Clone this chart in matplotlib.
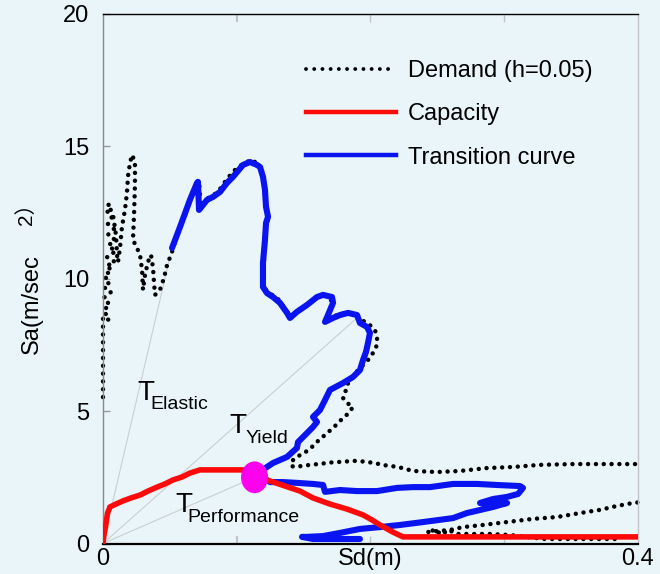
import numpy as np
import matplotlib
matplotlib.use("Agg")
import matplotlib.pyplot as plt
from matplotlib.patches import Ellipse
from matplotlib.lines import Line2D

plt.rcParams['font.family'] = ['Liberation Sans', 'Noto Sans CJK JP', 'DejaVu Sans']

BG = '#e9f5f8'

# Capacity spectrum (Sd [m], Sa [m/s^2])
cap_sd = [0.0, 0.0007, 0.0019, 0.0026, 0.0034, 0.0052, 0.0097, 0.0150, 0.0209, 0.0277,
          0.0336, 0.0404, 0.0463, 0.0523, 0.0590, 0.0650, 0.0725, 0.1047, 0.1136, 0.1249,
          0.1361, 0.1473, 0.1570, 0.1697, 0.1824, 0.1944, 0.2011, 0.2071, 0.2168, 0.2243, 0.4]
cap_sa = [0.0, 0.32, 0.62, 0.89, 1.15, 1.38, 1.49, 1.61, 1.72, 1.83,
          1.98, 2.13, 2.25, 2.40, 2.51, 2.66, 2.78, 2.78, 2.59, 2.36,
          2.17, 1.98, 1.72, 1.49, 1.30, 1.08, 0.89, 0.70, 0.43, 0.25, 0.25]

# Demand spectrum, h = 0.05 (NaN separates the part leaving the plotted range)
dem_sd = [0.0, 0.0, 0.0045, 0.0004, 0.0052, 0.0004, 0.0060, 0.0004, 0.0052, 0.0007,
          0.0067, 0.0022, 0.0090, 0.0030, 0.0097, 0.0037, 0.0090, 0.0037, 0.0082, 0.0037,
          0.0067, 0.0030, 0.0052, 0.0037, 0.0075, 0.0097, 0.0105, 0.0112,
          0.0127, 0.0142, 0.0164, 0.0179, 0.0187, 0.0202, 0.0217,
          0.0239, 0.0239, 0.0232, 0.0224, 0.0254, 0.0277, 0.0292, 0.0299, 0.0314, 0.0336,
          0.0359, 0.0374, 0.0381, 0.0389, 0.0426, 0.0456, 0.0479, 0.0516,
          0.0553, 0.0613, 0.0650, 0.0695, 0.0718, 0.0725, 0.0718, 0.0763, 0.0815, 0.0860,
          0.0912, 0.0965, 0.1009, 0.1062, 0.1107, 0.1151, 0.1181, 0.1204, 0.1211, 0.1219,
          0.1234, 0.1211, 0.1204, 0.1196, 0.1234, 0.1316, 0.1376, 0.1413, 0.1473, 0.1548,
          0.1622, 0.1697, 0.1712, 0.1682, 0.1735, 0.1809, 0.1892, 0.1936, 0.1996, 0.2034,
          0.2049, 0.2049, 0.2019, 0.1981, 0.1944, 0.1907, 0.1869, 0.1832, 0.1817, 0.1794,
          0.1824, 0.1869, 0.1839, 0.1794, 0.1750, 0.1712, 0.1660, 0.1607, 0.1570, 0.1525,
          0.1473, 0.1421, 0.1406, 0.1436, 0.1488, 0.1548, 0.1607, 0.1675, 0.1735, 0.1794,
          0.1854, 0.1907, 0.1974, 0.2034, 0.2086, 0.2146, 0.2206, 0.2318, 0.2497, 0.2669,
          0.2871, 0.3065, 0.3267, 0.3514, 0.3768, 0.3995,
          np.nan,
          0.3995, 0.3963, 0.3843, 0.3716, 0.3566, 0.3394, 0.3215, 0.3021, 0.2841, 0.2692,
          0.2594, 0.2497, 0.2422, 0.2460, 0.2497, 0.2535, 0.2572, 0.2609, 0.2654, 0.2781,
          0.2893, 0.3043, 0.3305, 0.3604, 0.3880]
dem_sa = [5.53, 8.56, 8.44, 8.82, 9.01, 9.27, 9.50, 9.69, 9.88, 10.11,
          10.33, 10.48, 10.63, 10.82, 11.05, 11.24, 11.47, 11.66, 11.88, 12.07,
          12.30, 12.49, 12.71, 12.83, 12.41, 11.65, 10.90, 10.63,
          11.16, 11.96, 12.60, 13.24, 13.88, 14.38, 14.68,
          14.41, 13.54, 12.41, 11.47, 11.16, 10.90, 10.33, 9.58, 10.14, 10.63,
          10.90, 10.41, 9.88, 9.39, 9.58, 10.03, 10.52, 11.01,
          11.65, 12.41, 12.98, 13.58, 13.62, 13.28, 12.60, 12.98, 13.13, 13.28,
          13.66, 14.00, 14.22, 14.37, 14.49, 14.37, 14.19, 13.73, 13.17, 12.71,
          12.34, 11.65, 10.71, 9.69, 9.50, 9.20, 8.75, 8.60, 8.82, 9.09,
          9.35, 9.35, 9.05, 8.63, 8.60, 8.71, 8.67, 8.44, 8.25, 8.06,
          7.76, 7.50, 7.20, 6.93, 6.74, 6.55, 6.29, 6.06, 5.80, 5.50,
          5.31, 5.16, 4.93, 4.74, 4.51, 4.33, 4.10, 3.87, 3.68, 3.49,
          3.34, 3.15, 2.93, 2.89, 2.93, 2.97, 3.00, 3.04, 3.08, 3.08,
          3.12, 3.12, 3.08, 3.04, 2.97, 2.93, 2.89, 2.74, 2.70, 2.74,
          2.85, 2.89, 2.97, 3.00, 3.00, 3.00,
          np.nan,
          1.55, 1.53, 1.42, 1.27, 1.15, 1.00, 0.93, 0.81, 0.70, 0.62,
          0.51, 0.47, 0.43, 0.51, 0.36, 0.51, 0.36, 0.47, 0.36, 0.36,
          0.36, 0.32, 0.17, 0.17, 0.17]

# Transition curve
tr_sd = [0.0516, 0.0576, 0.0650, 0.0703, 0.0710, 0.0718, 0.0778, 0.0822, 0.0875, 0.0927,
         0.0972, 0.1047, 0.1099, 0.1151, 0.1174, 0.1196, 0.1211, 0.1219, 0.1234, 0.1219,
         0.1211, 0.1196, 0.1196, 0.1226, 0.1271, 0.1323, 0.1376, 0.1398, 0.1450, 0.1525,
         0.1600, 0.1645, 0.1712, 0.1720, 0.1682, 0.1660, 0.1720, 0.1772, 0.1832, 0.1899,
         0.1921, 0.1974, 0.1996, 0.1981, 0.1966, 0.1944, 0.1921, 0.1869, 0.1794, 0.1697,
         0.1660, 0.1622, 0.1570, 0.1600, 0.1570, 0.1525, 0.1458, 0.1450, 0.1376, 0.1271,
         0.1226, 0.1151, 0.1249, 0.1346, 0.1450, 0.1570, 0.1645, 0.1660, 0.1772, 0.1899,
         0.2049, 0.2198, 0.2318, 0.2445, 0.2617, 0.2796, 0.2946, 0.3118, 0.3140, 0.3103,
         0.3021, 0.2916, 0.2819, 0.2871, 0.3021, 0.2916, 0.2721, 0.2617, 0.2393, 0.2221,
         0.2071, 0.1921, 0.1772, 0.1645, 0.1525, 0.1488, 0.1570, 0.1697, 0.1824, 0.1921]
tr_sa = [11.16, 11.96, 12.98, 13.62, 13.66, 12.60, 12.98, 13.09, 13.28, 13.62,
         13.85, 14.30, 14.41, 14.30, 14.22, 13.85, 13.36, 12.71, 12.34, 12.11,
         11.47, 10.60, 9.69, 9.46, 9.31, 9.09, 8.71, 8.52, 8.75, 9.01,
         9.31, 9.39, 9.31, 9.09, 8.63, 8.37, 8.52, 8.63, 8.71, 8.63,
         8.33, 8.18, 7.95, 7.57, 7.23, 6.93, 6.55, 6.29, 6.06, 5.80,
         5.42, 5.04, 4.78, 4.59, 4.40, 4.17, 3.83, 3.61, 3.27, 3.04,
         2.89, 2.63, 2.32, 2.32, 2.29, 2.25, 2.21, 1.95, 2.02, 1.98,
         1.98, 2.10, 2.13, 2.13, 2.25, 2.25, 2.21, 2.17, 2.10, 1.87,
         1.76, 1.68, 1.53, 1.49, 1.53, 1.38, 1.15, 0.96, 0.81, 0.70,
         0.62, 0.55, 0.40, 0.28, 0.25, 0.25, 0.17, 0.17, 0.17, 0.17]

# Performance point and period guide lines (end points on the curves)
perf_sd, perf_sa = 0.1133, 2.50
period_names = ['Elastic', 'Yield', 'Performance']
period_end_sd = [0.0501, 0.1899, perf_sd]
period_end_sa = [10.82, 8.52, perf_sa]

fig = plt.figure(figsize=(6.6, 5.74), dpi=100, facecolor=BG)
ax = fig.add_axes([103 / 660, 1 - 543.5 / 574, 535 / 660, 529.5 / 574], facecolor=BG)

for sd_end, sa_end in zip(period_end_sd, period_end_sa):
    ax.plot([0, sd_end], [0, sa_end], color='#c9cfd1', lw=0.8, zorder=1)

ax.plot(dem_sd, dem_sa, color='black', lw=3.2, linestyle=(0, (0.01, 1.75)),
        dash_capstyle='round', zorder=2, clip_on=False)
ax.plot(tr_sd, tr_sa, color='#0a14f0', lw=4.4, solid_joinstyle='round',
        solid_capstyle='round', zorder=3)
ax.plot(cap_sd, cap_sa, color='#ff0a0a', lw=4.0, solid_joinstyle='miter', zorder=4)
ax.add_patch(Ellipse((perf_sd, perf_sa), width=0.0202, height=1.20,
                     facecolor='#ff00ee', edgecolor='none', zorder=5))

ax.set_xlim(0, 0.4)
ax.set_ylim(0, 20)

# Axes frame
for side, col, lw in [('bottom', 'black', 1.6), ('top', 'black', 1.0),
                      ('left', '#8a8a8a', 1.0), ('right', '#c0c4c6', 1.0)]:
    ax.spines[side].set_color(col)
    ax.spines[side].set_linewidth(lw)

ax.set_xticks([0, 0.1, 0.2, 0.3, 0.4])
ax.set_xticklabels(['0', '', '', '', '0.4'])
ax.set_yticks([0, 5, 10, 15, 20])
ax.set_yticklabels(['0', '5', '10', '15', '20'])
ax.tick_params(axis='x', direction='in', length=6, width=1.0, top=True,
               labelsize=17, pad=3, colors='#c0c4c6', labelcolor='black')
ax.tick_params(axis='y', direction='in', length=5, width=1.0,
               labelsize=17, pad=10, colors='#9a9a9a', labelcolor='black')
for i, tk in enumerate(ax.xaxis.get_major_ticks()):
    if i in (0, 4):
        tk.tick1line.set_visible(False)
        tk.tick2line.set_visible(False)
    if i == 1:
        tk.tick1line.set_color('black')
        tk.tick2line.set_color('black')
        tk.tick1line.set_markeredgewidth(1.5)
        tk.tick2line.set_markeredgewidth(1.5)

ax.text(0.2, -0.008, 'Sd(m)', transform=ax.get_xaxis_transform(),
        ha='center', va='top', fontsize=17)
fig.text(32 / 660, 1 - 304 / 574, 'Sa(m/sec', rotation=90, ha='center', va='center',
         fontsize=17)
fig.text(26 / 660, 1 - 209 / 574, '2）', rotation=90, ha='center', va='center',
         fontsize=15)

# Period labels: main letter plus subscript
main_pos = [(0.0255, 5.42), (0.0943, 4.17), (0.0540, 1.19)]
sub_pos = [(0.0351, 5.08), (0.1062, 3.80), (0.0628, 0.81)]
for name, (lx, ly), (sx, sy) in zip(period_names, main_pos, sub_pos):
    ax.text(lx, ly, 'T', fontsize=20, ha='left', va='baseline', zorder=6)
    ax.text(sx, sy, name, fontsize=14, ha='left', va='baseline', zorder=6)

handles = [Line2D([], [], color='black', lw=2.8, linestyle=(0, (0.01, 2.1)),
                  dash_capstyle='round'),
           Line2D([], [], color='#ff0a0a', lw=3.2),
           Line2D([], [], color='#0a14f0', lw=3.2)]
labels = ['Demand (h=0.05)', 'Capacity', 'Transition curve']
fig.legend(handles, labels, loc='upper left', bbox_to_anchor=(306 / 660, 1 - 60 / 574),
           frameon=False, fontsize=17, handlelength=3.8, handletextpad=0.5,
           labelspacing=0.9, borderpad=0, borderaxespad=0)

fig.savefig('out.png', dpi=100, facecolor=BG)
